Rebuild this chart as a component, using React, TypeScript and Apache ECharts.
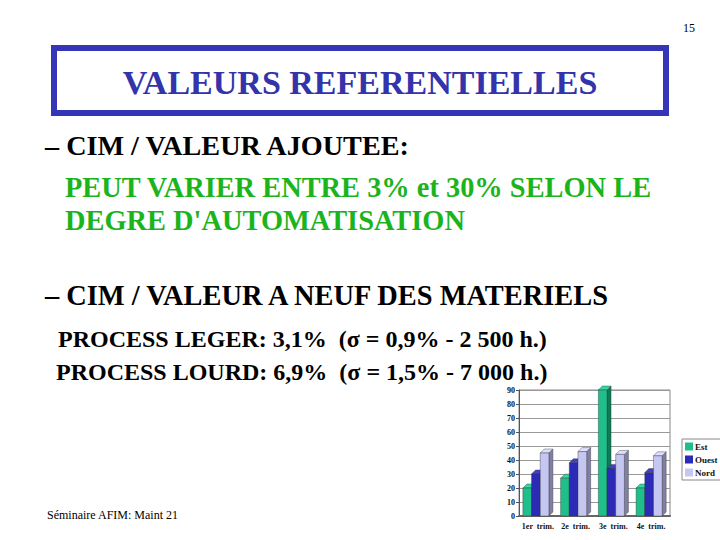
import React, { useEffect, useRef } from "react";
import * as echarts from "echarts";

const categories = ["1er  trim.", "2e  trim.", "3e  trim.", "4e  trim."];
const seriesNames = ["Est", "Ouest", "Nord"];
const estValues = [20, 27, 90, 20];
const ouestValues = [30, 38, 34, 31];
const nordValues = [45, 46, 44, 43];
const yMin = 0;
const yMax = 90;
const yStep = 10;

const titleText = "VALEURS REFERENTIELLES";
const line1 = "\u2013 CIM / VALEUR AJOUTEE:";
const line2 = "PEUT VARIER ENTRE 3% et 30% SELON LE";
const line3 = "DEGRE D'AUTOMATISATION";
const line4 = "\u2013 CIM / VALEUR A NEUF DES MATERIELS";
const line5 = "PROCESS LEGER: 3,1%  (\u03c3 = 0,9% - 2 500 h.)";
const line6 = "PROCESS LOURD: 6,9%  (\u03c3 = 1,5% - 7 000 h.)";
const footer = "S\u00e9minaire AFIM: Maint 21";
const pageNo = "15";

const faceColors = ["#1fbf8c", "#2b2bb5", "#c6c6f2"];
const sideColors = ["#0f7a58", "#191978", "#7f7fa8"];
const topColors = ["#30d8a2", "#4040d0", "#dedeff"];

const SERIF = "Liberation Serif";

function makeRender(si: number) {
  return (params: any, api: any) => {
    const cat = api.value(0);
    const v = api.value(1);
    const base = api.coord([cat, 0]);
    const top = api.coord([cat, v]);
    const band = api.size([1, 0])[0];
    const bw = band * 0.23;
    const d = 4;
    const x = base[0] - 1.5 * bw - d / 2 + si * bw;
    const y0 = base[1];
    const y1 = top[1];
    const stroke = "#333";
    return {
      type: "group",
      children: [
        {
          type: "polygon",
          shape: { points: [[x + bw, y1], [x + bw + d, y1 - d], [x + bw + d, y0 - d], [x + bw, y0]] },
          style: { fill: sideColors[si], stroke, lineWidth: 0.4 },
        },
        {
          type: "polygon",
          shape: { points: [[x, y1], [x + d, y1 - d], [x + bw + d, y1 - d], [x + bw, y1]] },
          style: { fill: topColors[si], stroke, lineWidth: 0.4 },
        },
        {
          type: "rect",
          shape: { x, y: y1, width: bw, height: y0 - y1 },
          style: { fill: faceColors[si], stroke, lineWidth: 0.4 },
        },
      ],
    };
  };
}

export default function App() {
  const ref = useRef<HTMLDivElement>(null);
  useEffect(() => {
    document.body.style.margin = "0";
    const chart = echarts.init(ref.current!, undefined, { renderer: "svg" });
    const allValues = [estValues, ouestValues, nordValues];
    const txt = (
      text: string,
      x: number,
      y: number,
      size: number,
      weight: string,
      fill: string,
      align = "left",
      extra: any = {}
    ) => ({
      type: "text",
      x,
      y,
      style: {
        text,
        fontFamily: SERIF,
        fontSize: size,
        fontWeight: weight,
        fill,
        textAlign: align,
        textVerticalAlign: "middle",
        ...extra,
      },
    });
    chart.setOption({
      animation: false,
      backgroundColor: "#ffffff",
      grid: {
        left: 519,
        top: 390,
        right: 50,
        bottom: 24,
        show: true,
        borderColor: "#888",
        borderWidth: 1,
        backgroundColor: "transparent",
      },
      legend: {
        orient: "vertical",
        left: 682,
        top: 439,
        data: seriesNames,
        icon: "rect",
        itemWidth: 8,
        itemHeight: 8,
        itemGap: 4,
        padding: [3, 3, 3, 3],
        borderColor: "#888",
        borderWidth: 1,
        textStyle: { fontFamily: SERIF, fontWeight: "bold", fontSize: 9, color: "#111", padding: [0, 0, 0, -3] },
      },
      xAxis: {
        type: "category",
        data: categories,
        axisLine: { show: true, lineStyle: { color: "#666", width: 2 } },
        axisTick: { show: false },
        axisLabel: { fontFamily: SERIF, fontWeight: "bold", fontSize: 8, color: "#111", margin: 6, interval: 0 },
        splitLine: { show: false },
      },
      yAxis: {
        type: "value",
        min: yMin,
        max: yMax,
        interval: yStep,
        axisLine: { show: true, lineStyle: { color: "#555", width: 1 } },
        axisTick: { show: true, length: 3, lineStyle: { color: "#555" } },
        axisLabel: { fontFamily: SERIF, fontWeight: "bold", fontSize: 8, color: "#111", margin: 4 },
        splitLine: { show: true, lineStyle: { color: "#999", width: 1 } },
      },
      series: seriesNames.map((name, si) => ({
        name,
        type: "custom",
        renderItem: makeRender(si),
        itemStyle: { color: faceColors[si] },
        encode: { x: 0, y: 1 },
        data: allValues[si].map((v, i) => [i, v]),
      })),
      graphic: [
        {
          type: "rect",
          shape: { x: 54, y: 48, width: 612, height: 65 },
          style: { fill: "#fff", stroke: "#3535b8", lineWidth: 6 },
          z: -1,
        },
        txt(titleText, 360, 82, 34, "bold", "#3333aa", "center", {
          textShadowColor: "#a8a8c8",
          textShadowOffsetX: 2,
          textShadowOffsetY: 2,
          textShadowBlur: 0,
        }),
        txt(line1, 45, 145, 28.2, "bold", "#000"),
        txt(line2, 65, 187, 28.4, "bold", "#1cb41c"),
        txt(line3, 65, 220, 28.4, "bold", "#1cb41c"),
        txt(line4, 45, 295, 28.4, "bold", "#000"),
        txt(line5, 58, 339, 24, "bold", "#000"),
        txt(line6, 56, 372, 24, "bold", "#000"),
        txt(footer, 47, 515, 12, "normal", "#000"),
        txt(pageNo, 683, 28, 12, "normal", "#000"),
      ],
    });
    return () => chart.dispose();
  }, []);
  return <div ref={ref} style={{ width: 720, height: 540 }} />;
}
